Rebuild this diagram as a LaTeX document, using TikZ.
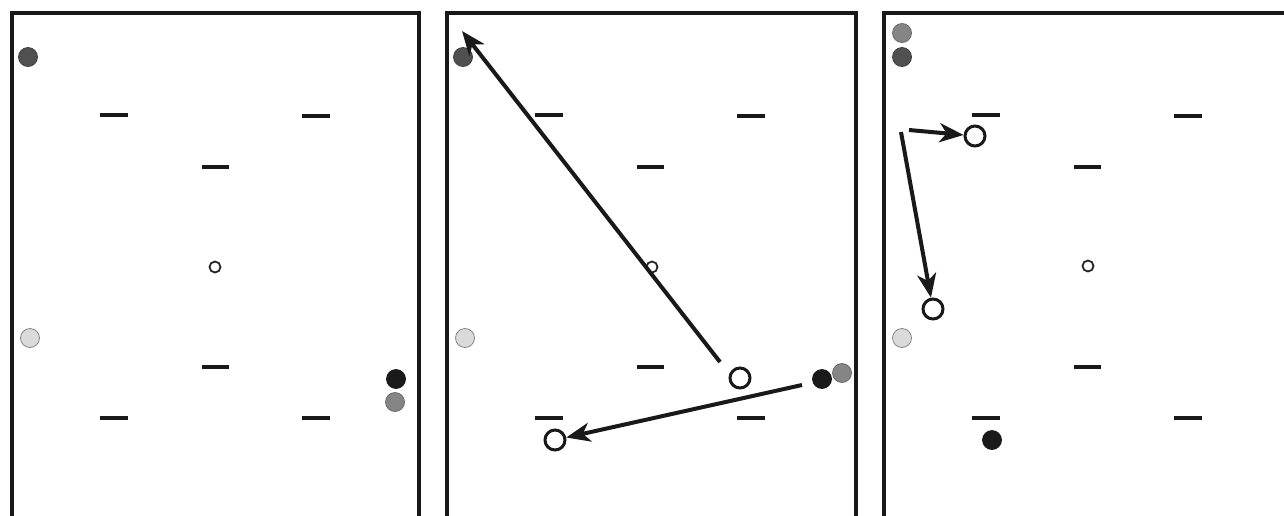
\documentclass[tikz,border=0pt]{standalone}
\usetikzlibrary{arrows.meta}
\definecolor{dkgrey}{HTML}{505050}
\definecolor{mdgrey}{HTML}{858585}
\definecolor{ltgrey}{HTML}{DADADA}
\definecolor{blk}{HTML}{1A1A1A}
\begin{document}
\begin{tikzpicture}[x=1pt,y=-1pt,
  frame/.style={line width=4pt,draw=black!90},
  dashmark/.style={line width=4pt,draw=black!90},
  disc/.style={circle,inner sep=0pt,minimum size=19pt,line width=0.8pt},
  dkdisc/.style={disc,fill=dkgrey,draw=dkgrey!80!black},
  mddisc/.style={disc,fill=mdgrey,draw=mdgrey!80!black},
  ltdisc/.style={disc,fill=ltgrey,draw=mdgrey},
  bkdisc/.style={disc,fill=blk,draw=blk},
  ball/.style={circle,inner sep=0pt,minimum size=11pt,draw=black!85,line width=1.8pt,fill=white},
  player/.style={circle,inner sep=0pt,minimum size=20pt,draw=black!90,line width=3pt,fill=white},
  move/.style={line width=4pt,draw=black!90,-{Stealth[length=24pt,width=19pt,inset=7pt]}}
]
\useasboundingbox (0,0) rectangle (1284,515);
\fill[white] (0,0) rectangle (1284,515);
% frames
\draw[frame] (12,520) -- (12,13) -- (419,13) -- (419,520);
\draw[frame] (447,520) -- (447,13) -- (856,13) -- (856,520);
\draw[frame] (884,520) -- (884,13) -- (1290,13);
% dashes (panel offsets)
\foreach \o in {0,435,872}{
  \draw[dashmark] (100+\o,115) -- (128+\o,115);
  \draw[dashmark] (302+\o,116) -- (330+\o,116);
  \draw[dashmark] (202+\o,167) -- (229+\o,167);
  \draw[dashmark] (202+\o,367) -- (229+\o,367);
  \draw[dashmark] (100+\o,418) -- (128+\o,418);
  \draw[dashmark] (302+\o,418) -- (330+\o,418);
}
% panel 1
\node[dkdisc] (a1) at (28,57) {};
\node[ball] (b1) at (215,267) {};
\node[ltdisc] (c1) at (30,338) {};
\node[bkdisc] (d1) at (396,379) {};
\node[mddisc] (e1) at (395,402) {};
% panel 2
\node[dkdisc] (a2) at (463,57) {};
\node[ball] (b2) at (652,267) {};
\node[ltdisc] (c2) at (465,338) {};
\node[player] (p2a) at (740,378) {};
\node[bkdisc] (d2) at (822,379) {};
\node[mddisc] (e2) at (842,373) {};
\node[player] (p2b) at (555,440) {};
\coordinate (s2a) at (720,362);
\coordinate (t2a) at (462,31);
\coordinate (s2b) at (802,385);
\draw[move] (s2a) -- (t2a);
\draw[move] (s2b) -- (p2b);
% panel 3
\node[mddisc] (e3) at (902,33) {};
\node[dkdisc] (a3) at (902,57) {};
\node[player] (p3a) at (975,136) {};
\node[player] (p3b) at (933,309) {};
\node[ball] (b3) at (1088,266) {};
\node[ltdisc] (c3) at (902,338) {};
\node[bkdisc] (d3) at (992,440) {};
\coordinate (s3a) at (909,130);
\coordinate (s3b) at (901,132);
\draw[move] (s3a) -- (p3a);
\draw[move] (s3b) -- (p3b);
\end{tikzpicture}
\end{document}
